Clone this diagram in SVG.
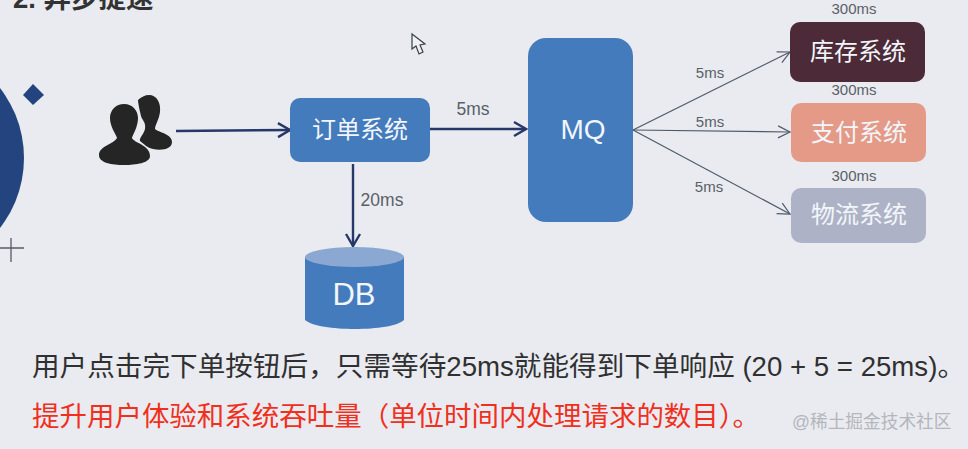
<svg xmlns="http://www.w3.org/2000/svg" width="968" height="449" viewBox="0 0 968 449">
<style>
text{font-family:"Liberation Sans","Noto Sans CJK SC",sans-serif}
.w{fill:#f2f6fb;font-size:24px;text-anchor:middle}
.l{fill:#5a5f68;font-size:15px;text-anchor:middle}
.l2{fill:#5a5f68;font-size:17.500px;text-anchor:middle}
.a{fill:none;stroke:#26386a;stroke-width:2.4}
.t{fill:none;stroke:#4f5a68;stroke-width:1.2}
.b{fill:#447bbc}
</style>
<defs>
<marker id="h" markerUnits="userSpaceOnUse" markerWidth="16" markerHeight="20" refX="14" refY="10" orient="auto"><path d="M2 3L14 10L2 17" fill="none" stroke="#26386a" stroke-width="2.4"/></marker>
<marker id="s" markerUnits="userSpaceOnUse" markerWidth="16" markerHeight="20" refX="13" refY="10" orient="auto"><path d="M1 4L13 10L1 16" fill="none" stroke="#4f5a68" stroke-width="1.2"/></marker>
</defs>
<rect width="968" height="449" fill="#e9ebf0"/>
<text x="13" y="8" fill="#333" font-weight="700" style="font-size:27.500px">2. 异步提速</text>
<g id="decor">
<circle cx="-90" cy="158" r="114" fill="#23447f"/>
<path d="M33 84L44 95L33 105L23 95Z" fill="#23447f"/>
<path d="M0 248H24M11 238V262" fill="none" stroke="#555c66" stroke-width="1.3"/>
</g>
<g id="users" fill="#252525">
<path d="M149 95C157 95 161 103 160 112C159 120 155 125 155 129C160 133 172 134 172 142C172 149 162 151 153 149C148 148 145 145 140 141C139 138 144 134 145 129C146 122 142 120 141 116C139 108 138 102 138 100C141 97 145 95 149 95Z"/>
<path d="M124 104C133 104 138 111 138 118C138 127 133 134 132 138C134 143 150 145 150 156C150 163 136 165 124 165C112 165 99 163 99 155C99 146 114 144 117 138C116 134 110 127 110 118C110 110 116 104 124 104Z"/>
</g>
<g id="cursor"><path d="M412 34L412 49L416 46L419 54L423 52L420 45L425 44Z" fill="#eef0f4" stroke="#3a3f48" stroke-width="1.2"/></g>
<g id="connectors">
<path class="a" d="M176 131L290 130" marker-end="url(#h)"/>
<path class="a" d="M430 129L526 129" marker-end="url(#h)"/>
<path class="a" d="M353 164L353 246" marker-end="url(#h)"/>
<path class="t" d="M633 130L790 52" marker-end="url(#s)"/>
<path class="t" d="M633 130L790 132" marker-end="url(#s)"/>
<path class="t" d="M633 130L790 214" marker-end="url(#s)"/>
<text class="l2" x="473" y="115">5ms</text>
<text class="l2" x="382" y="206">20ms</text>
<text class="l" x="710" y="78">5ms</text>
<text class="l" x="710" y="127">5ms</text>
<text class="l" x="709" y="192">5ms</text>
<text class="l" x="854" y="14">300ms</text>
<text class="l" x="854" y="95">300ms</text>
<text class="l" x="854" y="181">300ms</text>
</g>
<g id="order"><rect class="b" x="290" y="98" width="140" height="64" rx="10"/><text class="w" x="360" y="138">订单系统</text></g>
<g id="mq"><rect class="b" x="528" y="38" width="105" height="184" rx="18"/><text class="w" x="583" y="139" style="font-size:28px">MQ</text></g>
<g id="db"><path class="b" d="M305 257V320C318 332 392 332 404 320V257Z"/><ellipse cx="354.500" cy="257" rx="49.500" ry="10" fill="#8aa8d2"/><text class="w" x="354" y="305" style="font-size:31px">DB</text></g>
<g id="stock"><rect x="790" y="22" width="135" height="60" rx="10" fill="#4c2a38"/><text class="w" x="858" y="60">库存系统</text></g>
<g id="pay"><rect x="791" y="103" width="135" height="59" rx="10" fill="#e59a87"/><text class="w" x="859" y="141">支付系统</text></g>
<g id="ship"><rect x="791" y="188" width="135" height="55" rx="10" fill="#aeb2c6"/><text class="w" x="859" y="223">物流系统</text></g>
<g id="notes">
<text x="32" y="376" fill="#303030" style="font-size:27px" textLength="933" lengthAdjust="spacingAndGlyphs">用户点击完下单按钮后，只需等待25ms就能得到下单响应 (20 + 5 = 25ms)。</text>
<text x="32" y="426" fill="#f0301c" style="font-size:27px" textLength="728" lengthAdjust="spacingAndGlyphs">提升用户体验和系统吞吐量（单位时间内处理请求的数目）。</text>
<text x="792" y="428" fill="#b4b6bb" style="font-size:17.700px">@稀土掘金技术社区</text>
</g>
</svg>
